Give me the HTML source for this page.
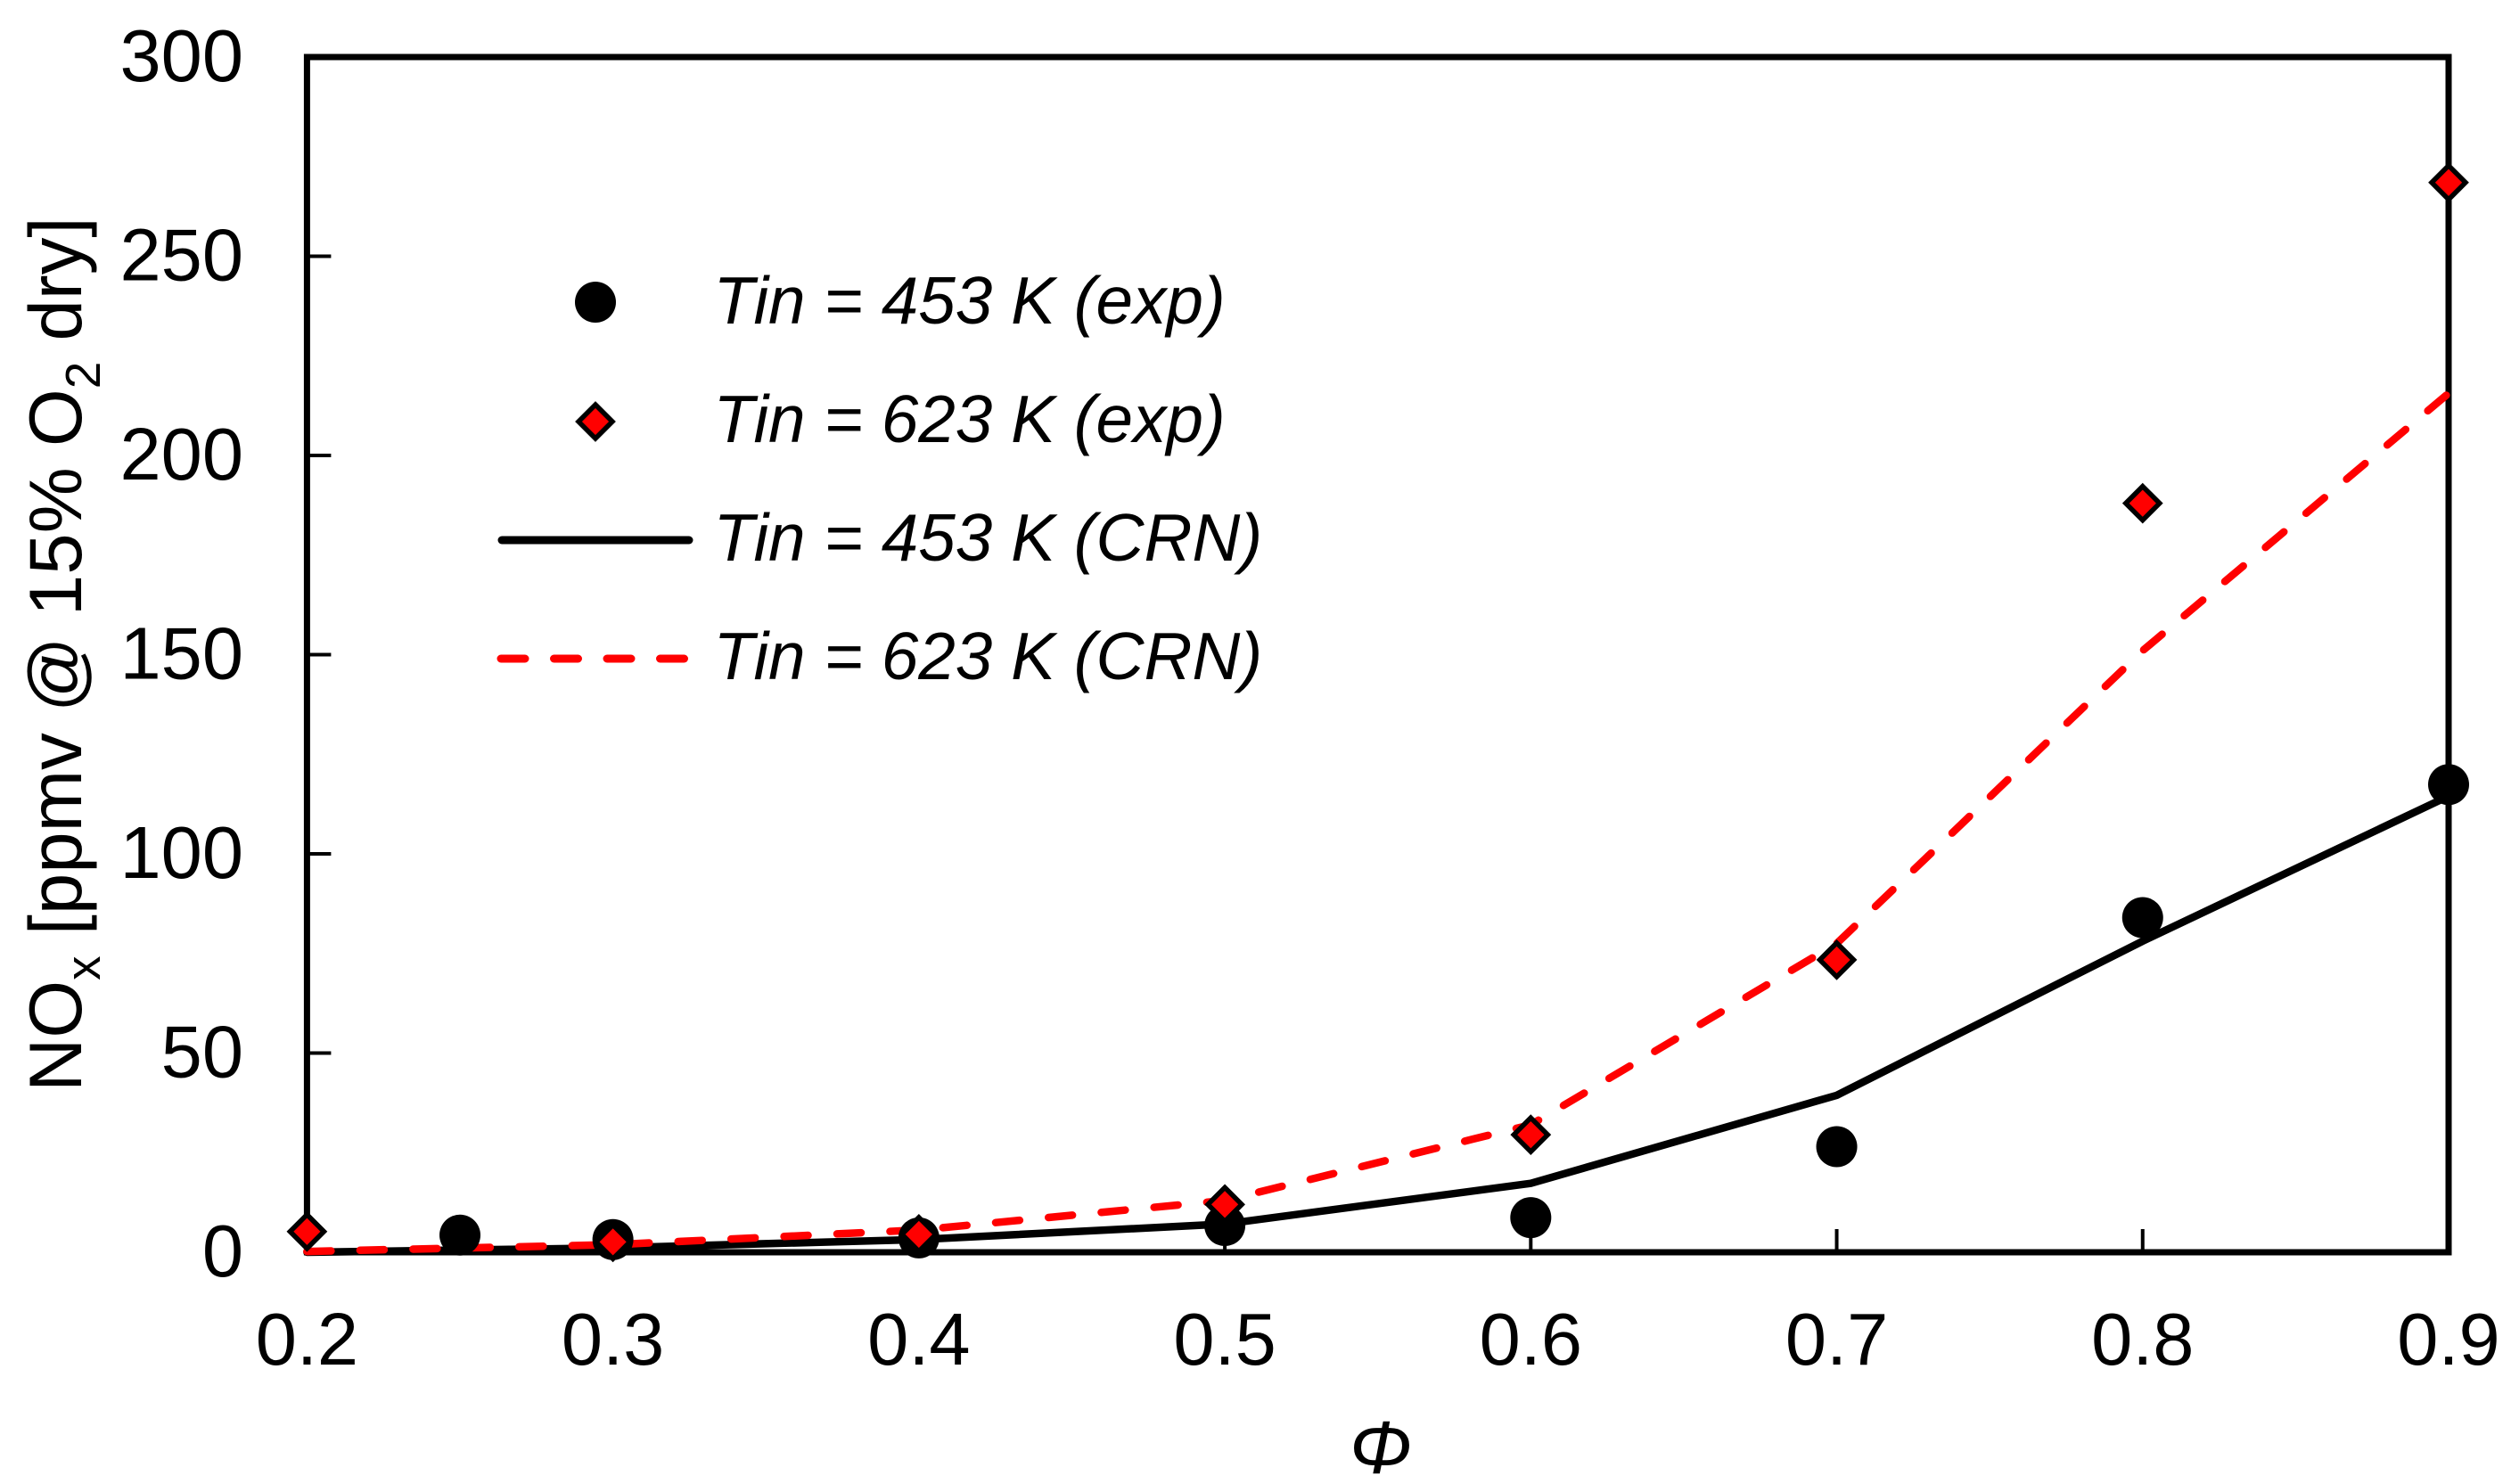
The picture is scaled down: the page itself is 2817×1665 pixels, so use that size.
<!DOCTYPE html>
<html lang="en">
<head>
<meta charset="utf-8">
<title>NOx vs equivalence ratio</title>
<style>
html,body{margin:0;padding:0;background:#fff;}
svg{display:block;}
text{font-family:"Liberation Sans",Arial,sans-serif;fill:#000;}
</style>
</head>
<body>
<svg id="chart" xmlns="http://www.w3.org/2000/svg" width="2817" height="1665" viewBox="0 0 2817 1665">
  <rect x="0" y="0" width="2817" height="1665" fill="#fff"/>
  <text transform="translate(91,1225) rotate(-90)" font-size="83.4">NO<tspan font-size="55" dy="21">x</tspan><tspan dy="-21"> [ppmv @ 15% O</tspan><tspan font-size="55" dy="21">2</tspan><tspan dy="-21"> dry]</tspan></text>
  <text x="1549" y="1653" font-size="84" font-style="italic" text-anchor="middle">Φ</text>
</svg>
<script>
const xTickLabels = ["0.2","0.3","0.4","0.5","0.6","0.7","0.8","0.9"];
const yTickLabels = ["0","50","100","150","200","250","300"];
const exp453X = [0.25,0.3,0.4,0.5,0.6,0.7,0.8,0.9];
const exp453Y = [4.3,3.2,3.6,6.7,8.7,26.5,84,117.4];
const exp623X = [0.2,0.3,0.4,0.5,0.6,0.7,0.8,0.9];
const exp623Y = [5.2,2.6,4.5,12,29.5,73.4,188,268.5];
const crnX = [0.2,0.3,0.4,0.5,0.6,0.7,0.8,0.9];
const crn453Y = [0,1.1,3.2,7.1,17.3,39.4,78.1,114.5];
const crn623Y = [0.2,1.9,5.6,13,32,77.5,151,215.6];
const legendLabels = ["Tin = 453 K (exp)","Tin = 623 K (exp)","Tin = 453 K (CRN)","Tin = 623 K (CRN)"];

const svg = document.getElementById('chart');
const NS = 'http://www.w3.org/2000/svg';
const plot = {left:344.4,right:2747,top:64,bottom:1405,xMin:0.2,xMax:0.9,yMin:0,yMax:300};
function sx(v){return plot.left+(v-plot.xMin)/(plot.xMax-plot.xMin)*(plot.right-plot.left);}
function sy(v){return plot.bottom-(v-plot.yMin)/(plot.yMax-plot.yMin)*(plot.bottom-plot.top);}
function make(tag,attrs){
  const el=document.createElementNS(NS,tag);
  for(const k in attrs){el.setAttribute(k,attrs[k]);}
  svg.appendChild(el);
  return el;
}
function circlePts(cx,cy,name){
  const el=make('circle',{cx:cx,cy:cy,r:23,fill:'#000'});
  
  
}
function diamondPts(cx,cy,name){
  const d=19;
  const el=make('polygon',{points:[cx,cy-d,cx+d,cy,cx,cy+d,cx-d,cy].join(' '),fill:'#f00',stroke:'#000','stroke-width':5.5,'stroke-linejoin':'miter'});
  
  
}
function linePath(xs,ys){
  return xs.map(function(x,i){return (i?'L':'M')+sx(x).toFixed(1)+' '+sy(ys[i]).toFixed(1);}).join(' ');
}

// Plot frame
const frame=make('rect',{x:plot.left,y:plot.top,width:plot.right-plot.left,height:plot.bottom-plot.top,fill:'none',stroke:'#000','stroke-width':7});



// X ticks and labels
xTickLabels.forEach(function(lab){
  const v=parseFloat(lab);
  const t=make('line',{x1:sx(v),x2:sx(v),y1:plot.bottom,y2:plot.bottom-26,stroke:'#000','stroke-width':4});
  
  
  const l=make('text',{x:sx(v),y:1531,'font-size':83,'text-anchor':'middle'});
  l.textContent=lab;
  
  
});

// Y ticks and labels
yTickLabels.forEach(function(lab){
  const v=parseFloat(lab);
  const t=make('line',{x1:plot.left,x2:plot.left+27,y1:sy(v),y2:sy(v),stroke:'#000','stroke-width':4});
  
  
  const l=make('text',{x:273,y:sy(v)+27,'font-size':83,'text-anchor':'end'});
  l.textContent=lab;
  
  
});

// Series lines
const black=make('path',{d:linePath(crnX,crn453Y),fill:'none',stroke:'#000','stroke-width':8.5,'stroke-linejoin':'round','stroke-linecap':'round'});


const red=make('path',{d:linePath(crnX,crn623Y),fill:'none',stroke:'#f00','stroke-width':8.5,'stroke-linejoin':'round','stroke-linecap':'round','stroke-dasharray':'27 32.5'});



// Series markers
exp453X.forEach(function(x,i){circlePts(sx(x),sy(exp453Y[i]),'point-453k-exp');});
exp623X.forEach(function(x,i){diamondPts(sx(x),sy(exp623Y[i]),'point-623k-exp');});

// Legend
const legendBaselines=[363,496,629,762];
legendLabels.forEach(function(lab,i){
  const l=make('text',{x:800.5,y:legendBaselines[i],'font-size':74.7,'font-style':'italic'});
  l.textContent=lab;
  
  
});
circlePts(668,339,'legend-marker-453k-exp');
diamondPts(668,473,'legend-marker-623k-exp');
const lg1=make('line',{x1:563,x2:773,y1:606,y2:606,stroke:'#000','stroke-width':9,'stroke-linecap':'round'});


const lg2=make('line',{x1:562,x2:768,y1:739,y2:739,stroke:'#f00','stroke-width':9,'stroke-linecap':'round','stroke-dasharray':'27 32.5'});


</script>
</body>
</html>
